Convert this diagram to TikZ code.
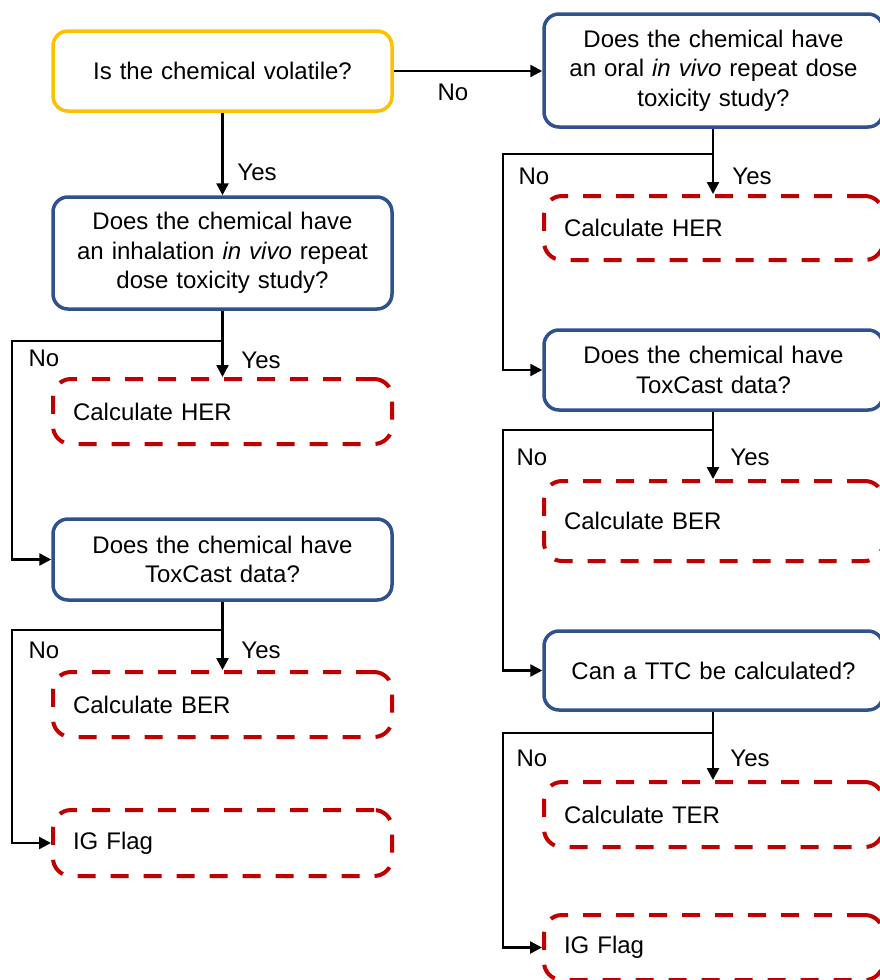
\documentclass[tikz,border=0pt]{standalone}
\usepackage{fontspec}
\setmainfont{Liberation Sans}
\usetikzlibrary{arrows.meta}
\definecolor{qyellow}{HTML}{FFC000}
\definecolor{qblue}{HTML}{2F528F}
\definecolor{rred}{HTML}{C00000}
\begin{document}
\begin{tikzpicture}[x=1pt,y=-1pt,
  every node/.style={font=\fontsize{24}{29.5}\selectfont},
  question/.style={draw=qblue, line width=3.5pt, rounded corners=15pt,
    minimum width=339pt, text width=319pt, inner xsep=10pt, align=center},
  startq/.style={question, draw=qyellow},
  result/.style={draw=rred, line width=4pt, dash pattern=on 18pt off 15pt,
    rounded corners=18pt, minimum width=339pt, text width=299pt,
    inner xsep=20pt, align=left},
  conn/.style={line width=2.5pt},
  arr/.style={conn, -{Triangle[length=12pt,width=12pt]}},
  lbl/.style={inner sep=0pt}]
\useasboundingbox (0,0) rectangle (879,980);

% left column
\node[startq, minimum height=80pt] (q1) at (222.5,71) {Is the chemical volatile?};
\node[question, minimum height=112pt] (q2) at (222.5,253)
  {Does the chemical have\\ an inhalation \textit{in vivo} repeat\\ dose toxicity study?};
\node[result, minimum height=65pt] (h1) at (222.5,411.5) {Calculate HER};
\node[question, minimum height=81pt] (q3) at (222.5,559.5)
  {Does the chemical have\\ ToxCast data?};
\node[result, minimum height=65pt] (b1) at (222.5,704.5) {Calculate BER};
\node[result, minimum height=66pt] (f1) at (222.5,843) {IG Flag};

% right column
\node[question, minimum height=113pt] (r1) at (713.5,70.5)
  {Does the chemical have\\ an oral \textit{in vivo} repeat dose\\ toxicity study?};
\node[result, minimum height=64pt] (r2) at (713.5,228) {Calculate HER};
\node[question, minimum height=80pt] (r3) at (713.5,370)
  {Does the chemical have\\ ToxCast data?};
\node[result, minimum height=80pt] (r4) at (713.5,521) {Calculate BER};
\node[question, minimum height=79pt] (r5) at (713.5,670.5)
  {Can a TTC be calculated?};
\node[result, minimum height=65pt] (r6) at (713.5,814.5) {Calculate TER};
\node[result, minimum height=65pt] (r7) at (713.5,947.5) {IG Flag};

% junction points of the "No" branches
\coordinate (j1) at (222,341);  \coordinate (k1) at (12,341);
\coordinate (j2) at (222,630);  \coordinate (k2) at (12,630);
\coordinate (j3) at (713,154);  \coordinate (k3) at (503,154);
\coordinate (j4) at (713,430);  \coordinate (k4) at (503,430);
\coordinate (j5) at (713,733);  \coordinate (k5) at (503,733);

% connectors
\draw[arr] (q1.east) -- (q1.east -| r1.west);
\draw[arr] (q1.south) -- (q2.north);
\draw[arr] (q2.south) -- (h1.north);
\draw[arr] (j1) -- (k1) |- (q3.west);
\draw[arr] (q3.south) -- (b1.north);
\draw[arr] (j2) -- (k2) |- (f1.west);
\draw[arr] (r1.south -| j3) -- (r2.north -| j3);
\draw[arr] (j3) -- (k3) |- (r3.west);
\draw[arr] (r3.south -| j4) -- (r4.north -| j4);
\draw[arr] (j4) -- (k4) |- (r5.west);
\draw[arr] (r5.south -| j5) -- (r6.north -| j5);
\draw[arr] (j5) -- (k5) |- (r7.west);

% branch labels
\node[lbl] (n0) at (453,92) {No};
\node[lbl] (y0) at (257,172) {Yes};
\node[lbl] (n1) at (44,358) {No};
\node[lbl] (y1) at (261,360) {Yes};
\node[lbl] (n2) at (44,650) {No};
\node[lbl] (y2) at (261,650) {Yes};
\node[lbl] (n3) at (534,176) {No};
\node[lbl] (y3) at (752,176) {Yes};
\node[lbl] (n4) at (532,457) {No};
\node[lbl] (y4) at (750,457) {Yes};
\node[lbl] (n5) at (532,758) {No};
\node[lbl] (y5) at (750,758) {Yes};
\end{tikzpicture}
\end{document}
